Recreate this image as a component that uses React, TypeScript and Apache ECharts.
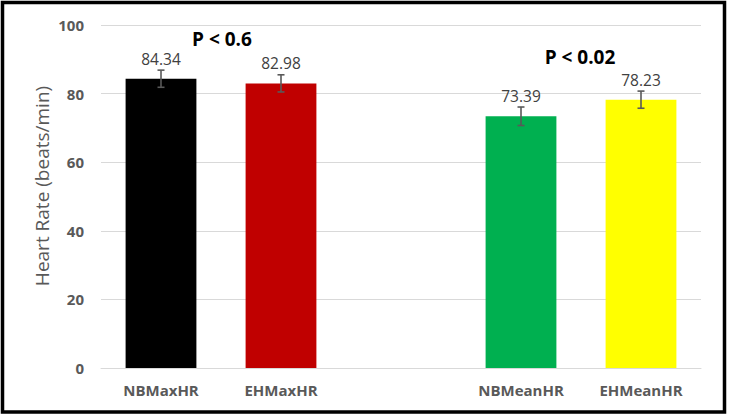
import { useEffect, useRef } from 'react';
import * as echarts from 'echarts';

// ─── Data ─────────────────────────────────────────────────────────────────────

const categories = ['NBMaxHR', 'EHMaxHR', '', 'NBMeanHR', 'EHMeanHR'];
const heartRates = [84.34, 82.98, null, 73.39, 78.23];
const errors = [2.5, 2.5, null, 2.7, 2.5];
const barColors = ['#000000', '#C00000', 'transparent', '#00B050', '#FFFF00'];
const pLabels = ['P < 0.6', 'P < 0.02'];
const yAxisTitle = 'Heart Rate (beats/min)';

const FONT = '"Open Sans", "Noto Sans", sans-serif';
const GREY = '#595959';

// ─── Option builder ───────────────────────────────────────────────────────────

function buildOption(): echarts.EChartsOption {
  const errorData = heartRates
    .map((v, i) => (v == null || errors[i] == null ? null : [i, v - errors[i]!, v + errors[i]!]))
    .filter((d): d is number[] => d !== null);

  return {
    animation: false,
    backgroundColor: '#ffffff',
    grid: { left: 101, right: 28, top: 25, bottom: 50 },
    xAxis: {
      type: 'category',
      data: categories,
      axisLine: { lineStyle: { color: '#d9d9d9', width: 1 } },
      axisTick: { show: false },
      axisLabel: {
        color: GREY,
        fontFamily: FONT,
        fontWeight: 'bold',
        fontSize: 15,
        margin: 14,
        interval: 0,
      },
    },
    yAxis: {
      type: 'value',
      min: 0,
      max: 100,
      interval: 20,
      axisLine: { show: false },
      axisTick: { show: false },
      axisLabel: {
        color: GREY,
        fontFamily: FONT,
        fontWeight: 'bold',
        fontSize: 15,
        margin: 17,
      },
      splitLine: { lineStyle: { color: '#d9d9d9', width: 1 } },
    },
    series: [
      {
        type: 'bar',
        barWidth: '59%',
        data: heartRates.map((v, i) => ({
          value: v as number,
          itemStyle: { color: barColors[i] },
        })),
        label: {
          show: true,
          position: 'top',
          distance: 12,
          color: '#404040',
          fontFamily: FONT,
          fontSize: 15.5,
          formatter: (p: any) => (p.value == null ? '' : Number(p.value).toFixed(2)),
        },
      },
      {
        type: 'custom',
        data: errorData,
        z: 10,
        renderItem: (_params: any, api: any) => {
          const idx = api.value(0);
          const lo = api.coord([idx, api.value(1)]);
          const hi = api.coord([idx, api.value(2)]);
          const half = 3.5;
          const style = { stroke: GREY, lineWidth: 1.6 };
          return {
            type: 'group',
            children: [
              { type: 'line', shape: { x1: hi[0], y1: hi[1], x2: lo[0], y2: lo[1] }, style },
              { type: 'line', shape: { x1: hi[0] - half, y1: hi[1], x2: hi[0] + half, y2: hi[1] }, style },
              { type: 'line', shape: { x1: lo[0] - half, y1: lo[1], x2: lo[0] + half, y2: lo[1] }, style },
            ],
          };
        },
      },
    ],
    graphic: [
      {
        type: 'rect',
        shape: { x: 2.5, y: 2.5, width: 722, height: 409.5 },
        style: { fill: 'none', stroke: '#000000', lineWidth: 3.5 },
        silent: true,
      },
      {
        type: 'text',
        x: 42,
        y: 186,
        rotation: Math.PI / 2,
        style: {
          text: yAxisTitle,
          fill: GREY,
          font: `19px ${FONT}`,
          align: 'center',
          verticalAlign: 'middle',
        },
      },
      {
        type: 'text',
        x: 222,
        y: 39,
        style: {
          text: pLabels[0],
          fill: '#000000',
          font: `bold 19px ${FONT}`,
          align: 'center',
          verticalAlign: 'middle',
        },
      },
      {
        type: 'text',
        x: 580,
        y: 57,
        style: {
          text: pLabels[1],
          fill: '#000000',
          font: `bold 19px ${FONT}`,
          align: 'center',
          verticalAlign: 'middle',
        },
      },
    ],
  };
}

// ─── Chart ────────────────────────────────────────────────────────────────────

export default function App() {
  const containerRef = useRef<HTMLDivElement>(null);

  useEffect(() => {
    document.body.style.margin = '0';
    if (!containerRef.current) return;
    const chart = echarts.init(containerRef.current, null, { renderer: 'svg' });
    chart.setOption(buildOption());
    return () => chart.dispose();
  }, []);

  return <div ref={containerRef} style={{ width: 729, height: 418 }} />;
}
